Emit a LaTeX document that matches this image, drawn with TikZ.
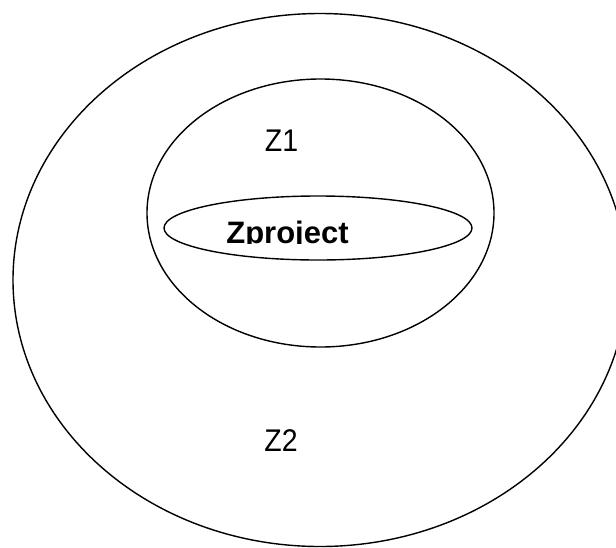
\documentclass[tikz,border=0pt]{standalone}
\usepackage{fontspec}
\setmainfont{Liberation Sans}
\tikzset{%
	zone/.style={draw=black,line width=1.4pt},
	zlabel/.style={inner sep=0pt,anchor=base,yscale=1.1,transform shape,font=\fontsize{28.5}{34}\selectfont},
	plabel/.style={inner sep=0pt,anchor=base,font=\fontsize{31}{36}\selectfont\bfseries},
}
\begin{document}
\begin{tikzpicture}[x=1pt,y=-1pt]
			\useasboundingbox (0,0) rectangle (616,547);
			\clip (0,0) rectangle (616,547);
			
			%zone
			\draw[zone] (320,280) ellipse [x radius=307, y radius=266.5];
			\draw[zone] (320.5,213) ellipse [x radius=173.5, y radius=134];
			\draw[zone] (318,228) ellipse [x radius=154, y radius=32];
			
			%oznake
			\node[zlabel] (z1) at (281.5,151) {Z1};
			\node[zlabel] (z2) at (281,451) {Z2};
			\begin{scope}
				\clip (150,190) rectangle (480,243.5);
				\node[plabel] (zproject) at (287.5,243) {Zproject};
			\end{scope}
		\end{tikzpicture}
\end{document}
